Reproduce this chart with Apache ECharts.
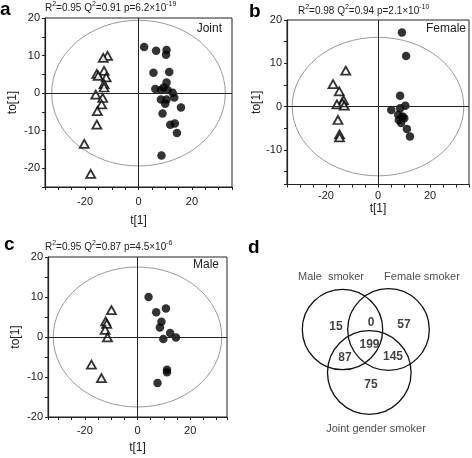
<!DOCTYPE html>
<html><head><meta charset="utf-8">
<script src="https://cdn.jsdelivr.net/npm/echarts@6/dist/echarts.min.js"></script>
<style>html,body{margin:0;padding:0;background:#fff}#c{width:472px;height:458px}</style>
</head><body><div id="c"></div>
<script>
// ---- Panel a: Joint ----
const jointTri = [[-11.6,9.9],[-13.2,9.4],[-12.9,5.9],[-15.6,5.1],[-15.1,4.6],[-12.1,4.2],[-12.9,2.4],[-12.9,1.5],[-16.0,-0.4],[-13.4,-1.3],[-13.8,-3.0],[-15.4,-4.8],[-15.6,-8.4],[-20.3,-13.5],[-17.9,-21.5]];
const jointCirc = [[2.1,12.3],[6.6,11.3],[10.5,11.5],[10.3,10.2],[5.6,5.4],[11.5,5.6],[6.3,1.1],[10.5,2.8],[9.4,1.5],[8.4,0.8],[10.9,0.8],[12.8,0.1],[13.4,-1.2],[8.4,-1.7],[10.5,-1.7],[10.0,-2.8],[15.9,-3.8],[9.0,-5.4],[11.9,-8.4],[13.6,-8.1],[14.4,-10.6],[8.6,-16.6]];
const jointEllipse = [32.5, 19.4];
// ---- Panel b: Female ----
const femaleTri = [[-12.4,8.3],[-17.3,5.2],[-14.9,3.5],[-13.3,1.5],[-13.7,0.8],[-15.8,0.5],[-13.0,0.2],[-15.4,-3.1],[-14.8,-6.4],[-14.8,-7.1]];
const femaleCirc = [[9.2,17.1],[10.8,11.7],[8.5,2.5],[10.5,0.2],[5.1,-0.8],[8.5,-0.4],[7.8,-1.9],[10.1,-2.7],[8.0,-3.1],[8.9,-3.8],[11.1,-5.2],[12.3,-6.9],[9.5,-2.3]];
const femaleEllipse = [33, 16];
// ---- Panel c: Male ----
const maleTri = [[-9.9,6.7],[-12.1,3.9],[-11.7,3.3],[-12.3,1.8],[-11.4,-0.1],[-17.5,-6.9],[-13.7,-10.3]];
const maleCirc = [[4.2,10.0],[7.1,6.2],[10.8,7.1],[9.1,3.8],[8.5,2.4],[12.4,1.0],[14.6,-0.1],[9.8,-0.5],[11.2,-8.2],[11.2,-8.8],[7.6,-11.5]];
const maleEllipse = [32, 17.5];
// ---- Model statistics ----
const panelNames = ['Joint', 'Female', 'Male'];
const statR2 = ['0.95', '0.98', '0.95'];
const statQ2 = ['0.91', '0.94', '0.87'];
const statP = [['6.2', '-19'], ['2.1', '-10'], ['4.5', '-6']];
// ---- Panel d: Venn ----
const vennSets = ['Male  smoker', 'Female smoker', 'Joint gender smoker'];
const vennRegions = ['Male only', 'Male∩Female', 'Female only', 'Male∩Joint', 'All', 'Female∩Joint', 'Joint only'];
const vennCounts = [15, 0, 57, 87, 199, 145, 75];

// ---- layout (pixel-like units of panel d's hidden grid) ----
const vennCircleLayout = [[342.5, 329.5, 40.2], [388.5, 329.5, 40.8], [369.3, 372.5, 41.8]];
const vennSetLabelLayout = [[331, 277], [422, 277], [376, 429]];
const vennCountLayout = [[336, 327], [371, 323], [404, 325], [345, 358], [369.5, 345], [393, 357], [371, 385]];

const FONT = 'Liberation Sans';
const INK = '#222';

const grids = [
  {left: 45, top: 18, width: 187, height: 169},
  {left: 287, top: 20, width: 182, height: 164.5},
  {left: 48, top: 257, width: 179, height: 160},
  {left: 236, top: 228, width: 236, height: 230, show: false}
];
grids.forEach((g, i) => { if (i < 3) { g.show = true; g.borderColor = INK; g.borderWidth = 1; g.backgroundColor = 'transparent'; } });

const xRanges = [[-35, 35], [-35, 35], [-34, 34]];
const yRanges = [[-25, 20], [-18, 20], [-20, 20]];
const xNameGaps = [28, 16, 25];
const xLabelMargins = [9, 6, 8];
const yNameGaps = [26, 24, 26];

const xAxes = [], yAxes = [];
for (let i = 0; i < 3; i++) {
  xAxes.push({
    type: 'value', gridIndex: i, min: xRanges[i][0], max: xRanges[i][1], minInterval: 5, maxInterval: 5,
    splitLine: {show: false},
    axisLine: {onZero: false, lineStyle: {color: INK, width: 1.2}},
    axisTick: {length: 3, lineStyle: {color: INK, width: 1}},
    axisLabel: {formatter: v => (v % 20 === 0 ? String(v) : ''), color: INK, fontSize: 11, fontFamily: FONT, margin: xLabelMargins[i], showMinLabel: true, showMaxLabel: true, hideOverlap: false},
    name: 't[1]', nameLocation: 'middle', nameGap: xNameGaps[i],
    nameTextStyle: {color: INK, fontSize: 12, fontFamily: FONT}
  });
  yAxes.push({
    type: 'value', gridIndex: i, min: yRanges[i][0], max: yRanges[i][1], minInterval: 5, maxInterval: 5,
    splitLine: {show: false},
    axisLine: {onZero: false, lineStyle: {color: INK, width: 1.2}},
    axisTick: {length: 3, lineStyle: {color: INK, width: 1}},
    axisLabel: {formatter: v => (v % 10 === 0 ? String(v) : ''), color: INK, fontSize: 11, fontFamily: FONT, margin: 5, hideOverlap: false},
    name: 'to[1]', nameLocation: 'middle', nameGap: yNameGaps[i], nameRotate: 90,
    nameTextStyle: {color: INK, fontSize: 12, fontFamily: FONT}
  });
}
xAxes.push({type: 'value', gridIndex: 3, min: 236, max: 472, show: false});
yAxes.push({type: 'value', gridIndex: 3, min: 228, max: 458, inverse: true, show: false});

const triSets = [jointTri, femaleTri, maleTri];
const circSets = [jointCirc, femaleCirc, maleCirc];
const ellipses = [jointEllipse, femaleEllipse, maleEllipse];

const series = [];
for (let i = 0; i < 3; i++) {
  series.push({
    type: 'custom', xAxisIndex: i, yAxisIndex: i, silent: true, z: 1,
    data: [[0, 0, ellipses[i][0], ellipses[i][1]]],
    renderItem: (p, api) => {
      const c = api.coord([api.value(0), api.value(1)]);
      const s = api.size([api.value(2), api.value(3)]);
      return {type: 'ellipse', shape: {cx: c[0], cy: c[1], rx: s[0], ry: s[1]}, style: {fill: 'none', stroke: '#9a9a9a', lineWidth: 1}};
    }
  });
  series.push({
    type: 'scatter', xAxisIndex: i, yAxisIndex: i, data: circSets[i], symbol: 'circle', symbolSize: 8.5,
    itemStyle: {color: '#000'}, silent: true, z: 3,
    markLine: {silent: true, symbol: ['none', 'none'], label: {show: false}, animation: false,
      lineStyle: {color: INK, type: 'solid', width: 1}, data: [{xAxis: 0}, {yAxis: 0}]}
  });
  series.push({
    type: 'scatter', xAxisIndex: i, yAxisIndex: i, data: triSets[i], symbol: 'triangle', symbolSize: [9, 8],
    itemStyle: {color: '#fff', borderColor: '#000', borderWidth: 1.8}, silent: true, z: 4
  });
}
// Venn circles
series.push({
  type: 'custom', xAxisIndex: 3, yAxisIndex: 3, silent: true,
  data: vennCircleLayout,
  renderItem: (p, api) => {
    const c = api.coord([api.value(0), api.value(1)]);
    const r = api.size([api.value(2), 0])[0];
    return {type: 'circle', shape: {cx: c[0], cy: c[1], r: r}, style: {fill: 'none', stroke: '#111', lineWidth: 1.3}};
  }
});
// Venn counts
series.push({
  type: 'scatter', xAxisIndex: 3, yAxisIndex: 3, symbolSize: 0, silent: true,
  data: vennCounts.map((v, k) => ({name: vennRegions[k], value: vennCountLayout[k].concat([v])})),
  label: {show: true, position: 'inside', formatter: p => String(p.value[2]), color: '#111', fontSize: 12, fontWeight: 'bold', fontFamily: FONT}
});
// Venn set names
series.push({
  type: 'scatter', xAxisIndex: 3, yAxisIndex: 3, symbolSize: 0, silent: true,
  data: vennSets.map((s, k) => ({name: s, value: vennSetLabelLayout[k]})),
  label: {show: true, position: 'inside', formatter: p => p.name, color: '#222', fontSize: 11, fontFamily: FONT}
});

const rich = {n: {fontSize: 10, fontWeight: 'normal', fontFamily: FONT, color: INK, verticalAlign: 'bottom', lineHeight: 12},
              s: {fontSize: 7, fontWeight: 'normal', fontFamily: FONT, color: INK, verticalAlign: 'top', lineHeight: 12}};
function statText(i) {
  return `{n|R}{s|2}{n|=${statR2[i]} Q}{s|2}{n|=${statQ2[i]} p=${statP[i][0]}×10}{s|${statP[i][1]}}`;
}
const titlePos = [[45, 1], [298, 4], [45, 240]];
const namePos = [[222, 23], [466, 23], [219, 259]];
const letterPos = [[0, 0, 'a'], [249, 2, 'b'], [4, 235, 'c'], [248, 238, 'd']];
const titles = [];
for (let i = 0; i < 3; i++) {
  titles.push({text: statText(i), left: titlePos[i][0], top: titlePos[i][1], padding: 0, textStyle: {rich: rich, fontSize: 10, fontWeight: 'normal'}});
  titles.push({text: panelNames[i], right: 472 - namePos[i][0], top: namePos[i][1], padding: 0, textStyle: {fontSize: 12, fontWeight: 'normal', fontFamily: FONT, color: INK}});
}
letterPos.forEach(l => titles.push({text: l[2], left: l[0], top: l[1], padding: 0, textStyle: {fontSize: 19, fontWeight: 'bold', fontFamily: FONT, color: '#000'}}));

const chart = echarts.init(document.getElementById('c'), null, {renderer: 'canvas'});
chart.setOption({animation: false, backgroundColor: '#fff', title: titles, grid: grids, xAxis: xAxes, yAxis: yAxes, series: series});
</script></body></html>
